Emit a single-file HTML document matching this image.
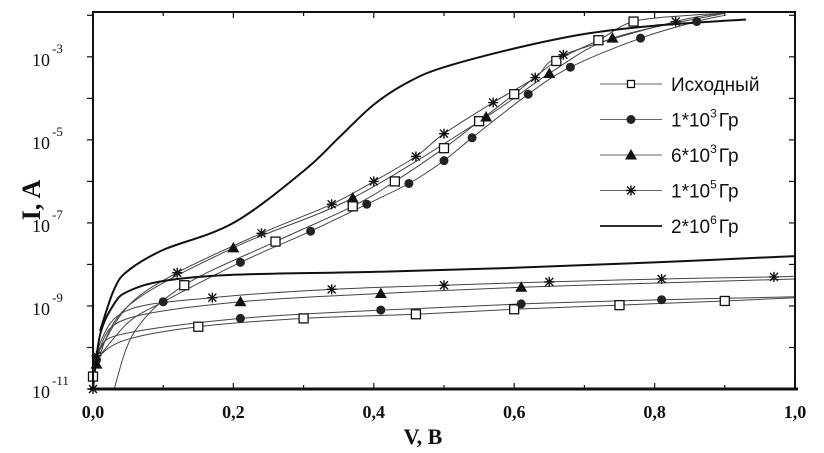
<!DOCTYPE html>
<html><head><meta charset="utf-8"><style>
body{margin:0;background:#fff;width:824px;height:453px;overflow:hidden}
svg{display:block}
text{font-family:"Liberation Serif",serif;fill:#111}
.leg{font-family:"Liberation Sans",sans-serif;font-size:19px}
</style></head><body>
<svg id="chart" width="824" height="453" viewBox="0 0 824 453" xmlns="http://www.w3.org/2000/svg">
<g id="curves"></g>
<g id="marks"></g>
<g id="axes"></g>
<g id="legend"></g>
</svg>
<script>
// data: V (volts) and log10(I, A); *Mk = indices of points carrying a marker
const srcUpV=[0.03,0.06,0.13,0.26,0.37,0.43,0.5,0.55,0.6,0.66,0.72,0.77,0.85,0.9];
const srcUpL=[-11,-9.6,-8.5,-7.45,-6.6,-6.0,-5.2,-4.55,-3.9,-3.1,-2.6,-2.15,-2.0,-1.95];
const srcUpMk=[2,3,4,5,6,7,8,9,10,11];
const srcDnV=[0.0,0.01,0.05,0.15,0.3,0.46,0.6,0.75,0.9,1.0];
const srcDnL=[-10.7,-10.2,-9.8,-9.5,-9.3,-9.2,-9.08,-8.98,-8.88,-8.8];
const srcDnMk=[0,3,4,5,6,7,8];
const cirUpV=[0.005,0.05,0.1,0.21,0.31,0.39,0.45,0.5,0.54,0.62,0.68,0.78,0.86,0.9];
const cirUpL=[-10.3,-9.4,-8.9,-7.95,-7.2,-6.55,-6.05,-5.5,-4.95,-3.9,-3.25,-2.55,-2.15,-2.0];
const cirUpMk=[0,2,3,4,5,6,7,8,9,10,11,12];
const cirDnV=[0.0,0.01,0.05,0.21,0.41,0.61,0.81,1.0];
const cirDnL=[-10.8,-10.0,-9.65,-9.3,-9.1,-8.95,-8.85,-8.78];
const cirDnMk=[3,4,5,6];
const triUpV=[0.005,0.05,0.2,0.37,0.56,0.65,0.74,0.9];
const triUpL=[-10.4,-9.0,-7.6,-6.4,-4.45,-3.4,-2.55,-1.95];
const triUpMk=[0,2,3,4,5,6];
const triDnV=[0.0,0.01,0.05,0.21,0.41,0.61,0.8,1.0];
const triDnL=[-11,-10.0,-9.3,-8.9,-8.7,-8.55,-8.45,-8.35];
const triDnMk=[3,4,5];
const starUpV=[0.005,0.05,0.12,0.24,0.34,0.4,0.46,0.5,0.57,0.63,0.67,0.83,0.9];
const starUpL=[-10.2,-9.0,-8.2,-7.25,-6.55,-6.0,-5.4,-4.85,-4.1,-3.5,-2.95,-2.15,-1.95];
const starUpMk=[0,2,3,4,5,6,7,8,9,10,11];
const starDnV=[0.0,0.01,0.05,0.17,0.34,0.5,0.65,0.81,0.97,1.0];
const starDnL=[-11,-9.9,-9.1,-8.8,-8.6,-8.5,-8.42,-8.35,-8.3,-8.28];
const starDnMk=[0,3,4,5,6,7,8];
const hiUpV=[0.01,0.03,0.05,0.1,0.2,0.3,0.35,0.4,0.45,0.5,0.6,0.7,0.8,0.93];
const hiUpL=[-9.6,-8.6,-8.15,-7.65,-7.0,-5.75,-4.95,-4.15,-3.6,-3.25,-2.8,-2.45,-2.25,-2.1];
const hiDnV=[0.0,0.01,0.03,0.05,0.1,0.2,0.4,0.6,0.8,1.0];
const hiDnL=[-11,-9.7,-8.95,-8.65,-8.4,-8.25,-8.18,-8.08,-7.95,-7.8];
const xTicks=[0,0.2,0.4,0.6,0.8,1.0];
const xTickLabels=["0,0","0,2","0,4","0,6","0,8","1,0"];
const yTicks=[-11,-9,-7,-5,-3];
const yTickLabels=["-11","-9","-7","-5","-3"];
const legendLabels=["Исходный","1*10","6*10","1*10","2*10"];
const legendSup=["","3","3","5","6"];

const X0=93,X1=795,Y0=389,Y1=12,LMIN=-11,LMAX=-1.92;
const sx=v=>X0+(v-0)/(1-0)*(X1-X0);
const sy=l=>Y0-(l-LMIN)/(LMAX-LMIN)*(Y0-Y1);
const NS="http://www.w3.org/2000/svg";
function mk(tag,attrs,parent){const e=document.createElementNS(NS,tag);for(const k in attrs)e.setAttribute(k,attrs[k]);parent.appendChild(e);return e;}
function path(V,L){
  const p=V.map((v,i)=>[sx(v),sy(L[i])]);
  let d="M"+p[0][0].toFixed(1)+","+p[0][1].toFixed(1);
  for(let i=0;i<p.length-1;i++){
    const a=p[i-1]||p[i],b=p[i],c=p[i+1],e=p[i+2]||c;
    const c1=[b[0]+(c[0]-a[0])/6,b[1]+(c[1]-a[1])/6],c2=[c[0]-(e[0]-b[0])/6,c[1]-(e[1]-b[1])/6];
    d+=`C${c1[0].toFixed(1)},${c1[1].toFixed(1)} ${c2[0].toFixed(1)},${c2[1].toFixed(1)} ${c[0].toFixed(1)},${c[1].toFixed(1)}`;
  }
  return d;
}
const cg=document.getElementById('curves'),mg=document.getElementById('marks');
function marker(type,x,y,g){
  let m;
  if(type==='sq'){m=mk('rect',{x:x-4.5,y:y-4.5,width:9,height:9,fill:'#fff',stroke:'#111','stroke-width':1.3},g);}
  else if(type==='ci'){m=mk('circle',{cx:x,cy:y,r:4.5,fill:'#222'},g);}
  else if(type==='tr'){m=mk('polygon',{points:`${x},${y-6} ${x-6},${y+4.5} ${x+6},${y+4.5}`,fill:'#111'},g);}
  else {m=mk('path',{d:`M${x-5},${y}H${x+5}M${x},${y-5}V${y+5}M${x-4},${y-4}L${x+4},${y+4}M${x-4},${y+4}L${x+4},${y-4}`,stroke:'#111','stroke-width':1.4,fill:'none'},g);}
  return m;
}
const series=[
 {n:'source',V:srcUpV,L:srcUpL,K:srcUpMk,m:'sq',w:1},{n:'source-reverse',V:srcDnV,L:srcDnL,K:srcDnMk,m:'sq',w:1},
 {n:'dose-1e3',V:cirUpV,L:cirUpL,K:cirUpMk,m:'ci',w:1},{n:'dose-1e3-reverse',V:cirDnV,L:cirDnL,K:cirDnMk,m:'ci',w:1},
 {n:'dose-6e3',V:triUpV,L:triUpL,K:triUpMk,m:'tr',w:1},{n:'dose-6e3-reverse',V:triDnV,L:triDnL,K:triDnMk,m:'tr',w:1},
 {n:'dose-1e5',V:starUpV,L:starUpL,K:starUpMk,m:'st',w:1},{n:'dose-1e5-reverse',V:starDnV,L:starDnL,K:starDnMk,m:'st',w:1},
 {n:'dose-2e6',V:hiUpV,L:hiUpL,K:[],m:null,w:2},{n:'dose-2e6-reverse',V:hiDnV,L:hiDnL,K:[],m:null,w:2}
];
series.forEach(s=>{
  const p=mk('path',{d:path(s.V,s.L),fill:'none',stroke:s.w>1?'#111':'#444','stroke-width':s.w},cg);
  
  
  s.K.forEach(i=>{
    const m=marker(s.m,sx(s.V[i]),sy(s.L[i]),mg);
    
    
  });
});
// axes
const ag=document.getElementById('axes');
const frame=mk('rect',{x:X0,y:Y1,width:X1-X0,height:Y0-Y1,fill:'none',stroke:'#111','stroke-width':2},ag);


mk('line',{x1:X0-3,y1:Y0,x2:X1+3,y2:Y0,stroke:'#111','stroke-width':3},ag);
for(let k=0;k<=10;k++){
  const x=sx(k/10),len=k%2===0?6:4;
  mk('line',{x1:x,y1:Y0,x2:x,y2:Y0-len,stroke:'#111','stroke-width':1.2},ag);
  mk('line',{x1:x,y1:Y1,x2:x,y2:Y1+len,stroke:'#111','stroke-width':1.2},ag);
}
xTicks.forEach((v,i)=>{
  const t=mk('text',{x:sx(v),y:418,'text-anchor':'middle','font-size':18,'font-weight':'bold'},ag);
  t.textContent=xTickLabels[i];
  
  
});
for(let l=-11;l<=-2;l++){
  mk('line',{x1:X0,y1:sy(l),x2:X0-6,y2:sy(l),stroke:'#111','stroke-width':1.2},ag);
  mk('line',{x1:X1,y1:sy(l),x2:X1-6,y2:sy(l),stroke:'#111','stroke-width':1.2},ag);
}
yTicks.forEach((l,i)=>{
  const t=mk('text',{x:32,y:sy(l)+9,'font-size':18},ag);
  t.textContent='10';
  
  
  const s=mk('text',{x:52,y:sy(l)-4,'font-size':13},ag);
  s.textContent=yTickLabels[i];
  
  
});
const xt=mk('text',{x:423,y:444,'text-anchor':'middle','font-size':22,'font-weight':'bold'},ag);
xt.textContent='V, B';


const yt=mk('text',{x:0,y:0,'text-anchor':'middle','font-size':26,'font-weight':'bold',transform:'translate(40,200) rotate(-90)'},ag);
yt.textContent='I, A';


// legend
const lg=document.getElementById('legend');
const legMarks=['sq','ci','tr','st',null];
legendLabels.forEach((lab,i)=>{
  const y=84+i*35.5;
  const g=mk('g',{},lg);
  
  
  mk('line',{x1:600,y1:y,x2:662,y2:y,stroke:legMarks[i]?'#666':'#111','stroke-width':legMarks[i]?1:1.8},g);
  if(legMarks[i]){const m=marker(legMarks[i],631,y,g); if(legMarks[i]==='sq'){m.setAttribute('width',7);m.setAttribute('height',7);m.setAttribute('x',627.5);m.setAttribute('y',y-3.5);}}
  const t=mk('text',{x:671,y:y+7,class:'leg'},g);
  t.textContent=lab;
  if(legendSup[i]){
    const s=mk('tspan',{dy:-9,'font-size':12},t);s.textContent=legendSup[i];
    const r=mk('tspan',{dy:9,dx:2},t);r.textContent='Гр';
  }
});
</script>
</body></html>
